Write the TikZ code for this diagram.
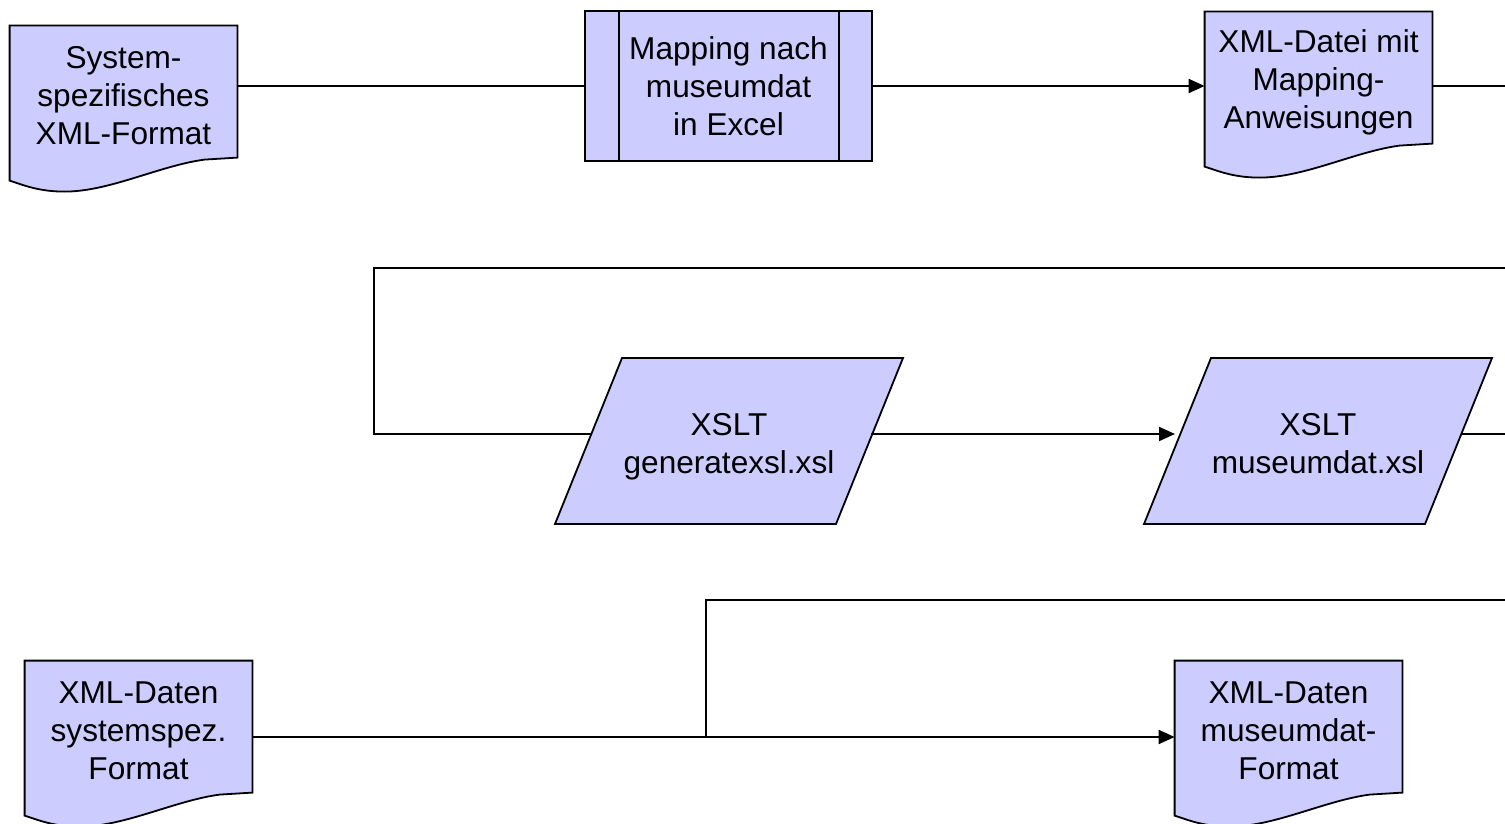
\documentclass[tikz,border=0pt]{standalone}
\usepackage{fontspec}
\setmainfont{Liberation Sans}
\usetikzlibrary{arrows.meta,calc,backgrounds}
\definecolor{lav}{RGB}{204,204,255}
\begin{document}
\begin{tikzpicture}[x=0.5pt,y=-0.5pt,
  txt/.style={draw=none, inner sep=0pt, align=center, font=\fontsize{15.8pt}{19pt}\selectfont},
  docbox/.style={txt, minimum width=113.5pt, minimum height=70pt},
  parabox/.style={txt},
  procbox/.style={txt, draw=black, fill=lav, line width=0.9pt, minimum width=143.5pt, minimum height=75pt},
  shp/.style={draw=black, fill=lav, line width=0.9pt, line join=miter},
  conn/.style={line width=1pt},
  arr/.style={conn, -{Triangle[length=8pt,width=7pt]}}]
\useasboundingbox (0,0) rectangle (1505,824);

% centres of the parallelograms
\coordinate (x1c) at (729,441);
\coordinate (x2c) at (1318,441);

% nodes
\node[docbox] (d1) at (123.5,96) {System-\\spezifisches\\XML-Format};
\node[procbox] (p1) at (728.5,86) {Mapping nach\\museumdat\\in Excel};
\node[docbox] (d3) at (1318.5,82) {XML-Datei mit\\Mapping-\\Anweisungen};
\node[parabox] (x1) at ($(x1c)+(0,6)$) {XSLT\\generatexsl.xsl};
\node[parabox] (x2) at ($(x2c)+(0,6)$) {XSLT\\museumdat.xsl\vphantom{g}};
\node[docbox] (d4) at (138.5,731) {XML-Daten\\systemspez.\\Format};
\node[docbox] (d5) at (1288.5,731) {XML-Daten\\museumdat-\\Format};

% shapes
\begin{scope}[on background layer]
  \foreach \n in {d1,d3,d4,d5}{
    \draw[shp] (\n.north west) -- (\n.north east) -- ($(\n.north east)+(0,132)$)
      -- ($(\n.north west)+(195,134)$)
      .. controls ($(\n.north west)+(150,140)$) and ($(\n.north west)+(100,166)$) .. ($(\n.north west)+(55,166)$)
      .. controls ($(\n.north west)+(30,166)$) and ($(\n.north west)+(15,160)$) .. ($(\n.north west)+(0,155)$)
      -- cycle;
  }
  \foreach \n in {x1c,x2c}{
    \draw[shp] ($(\n)+(-107,-83)$) -- ($(\n)+(174,-83)$) -- ($(\n)+(107,83)$) -- ($(\n)+(-174,83)$) -- cycle;
  }
\end{scope}
\draw[line width=0.9pt] ($(p1.north west)+(35,0)$) -- ($(p1.south west)+(35,0)$);
\draw[line width=0.9pt] ($(p1.north east)+(-34,0)$) -- ($(p1.south east)+(-34,0)$);

% connector points
\coordinate (r1) at (1505,86);
\coordinate (r2) at (1505,268);
\coordinate (k1) at (374,268);
\coordinate (x1in) at ($(x1c)+(-137,-7)$);
\coordinate (x1out) at ($(x1c)+(142,-7)$);
\coordinate (x2in) at ($(x2c)+(-143,-7)$);
\coordinate (x2out) at ($(x2c)+(143,-7)$);
\coordinate (r3) at (1505,434);
\coordinate (r4) at (1505,600);
\coordinate (k2) at (706,600);
\coordinate (d4o) at ($(d4.east)+(0,6)$);

% connectors
\draw[conn] (p1.west -| d1.east) -- (p1.west);
\draw[arr] (p1.east) -- (p1.east -| d3.west);
\draw[conn] (p1.east -| d3.east) -- (r1);
\draw[conn] (r2) -- (k1) |- (x1in);
\draw[arr] (x1out) -- (x2in);
\draw[conn] (x2out) -- (r3);
\draw[arr] (d4o) -- (d4o -| d5.west);
\draw[conn] (r4) -- (k2) -- (k2 |- d4o);
\end{tikzpicture}
\end{document}
